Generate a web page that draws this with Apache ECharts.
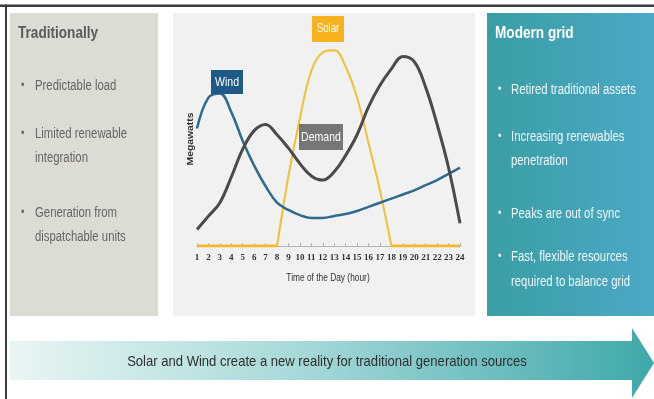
<!DOCTYPE html>
<html>
<head>
<meta charset="utf-8">
<title>Solar and Wind create a new reality</title>
<script src="https://cdn.jsdelivr.net/npm/echarts@6/dist/echarts.min.js"></script>
<style>
  html, body { margin: 0; padding: 0; background: #ffffff; }
  #chart { width: 654px; height: 399px; }
</style>
</head>
<body>
<div id="chart"></div>
<script>
// Hour of day categories
const hours = ['1','2','3','4','5','6','7','8','9','10','11','12','13','14','15','16','17','18','19','20','21','22','23','24'];

// Relative output / load per hour (arbitrary megawatt scale, 0-100)
const demand = [8, 14.5, 21, 33.5, 47, 56, 59, 54, 47.5, 40, 34, 32, 36, 44, 54, 67.5, 78, 86, 92, 89.5, 77, 59, 38, 11];
const wind   = [57, 72, 74, 65, 51, 39, 29, 21, 17.5, 15, 13.6, 13.6, 14.6, 15.5, 17, 19, 21, 23, 25, 27, 29.5, 32, 35, 38];
const solar  = [0, 0, 0, 0, 0, 0, 0, 0, 34, 62, 85, 94, 95, 87, 72, 50, 27, 0, 0, 0, 0, 0, 0, 0];

// Panel text
const leftTitle = 'Traditionally';
const leftLines = [
  { text: 'Predictable load', bullet: true },
  { text: 'Limited renewable', bullet: true },
  { text: 'integration', bullet: false },
  { text: 'Generation from', bullet: true },
  { text: 'dispatchable units', bullet: false }
];
const rightTitle = 'Modern grid';
const rightLines = [
  { text: 'Retired traditional assets', bullet: true },
  { text: 'Increasing renewables', bullet: true },
  { text: 'penetration', bullet: false },
  { text: 'Peaks are out of sync', bullet: true },
  { text: 'Fast, flexible resources', bullet: true },
  { text: 'required to balance grid', bullet: false }
];
const arrowText = 'Solar and Wind create a new reality for traditional generation sources';
const xAxisTitle = 'Time of the Day (hour)';
const yAxisTitle = 'Megawatts';

const SANS = '"Liberation Sans", Arial, sans-serif';
// horizontal squeeze giving the condensed look of the lettering
const NARROW_SCALE = 0.81;

// Solar is drawn as a flat night-time baseline plus a smooth daytime curve
const solarBase = solar.map(v => (v === 0 ? 0 : null));
const solarDay = solar.map((v, i) =>
  (v > 0 || solar[i - 1] > 0 || solar[i + 1] > 0) ? v : null);

function textEl(x, y, text, opts, scale) {
  return {
    type: 'text',
    x: x, y: y,
    scaleX: scale == null ? NARROW_SCALE : scale,
    z: 10,
    style: Object.assign({
      text: text,
      fill: '#5e5e5e',
      font: '14px ' + SANS,
      textVerticalAlign: 'middle',
      textAlign: 'left'
    }, opts || {})
  };
}

function listEls(lines, ys, bx, tx, color) {
  const out = [];
  lines.forEach((l, i) => {
    if (l.bullet) out.push(textEl(bx, ys[i], '\u2022', { fill: color, font: '12px ' + SANS }));
    out.push(textEl(tx, ys[i], l.text, { fill: color }));
  });
  return out;
}

function labelBox(x, y, w, h, fill, text, size) {
  return {
    type: 'group', z: 20,
    children: [
      { type: 'rect', shape: { x: x, y: y, width: w, height: h }, style: { fill: fill }, z: 20 },
      { type: 'text', z: 21, x: x + w / 2, y: y + h / 2, scaleX: NARROW_SCALE,
        style: { text: text, fill: '#ffffff', font: size + 'px ' + SANS,
                 textAlign: 'center', textVerticalAlign: 'middle' } }
    ]
  };
}

const graphics = [
  // frame lines
  { type: 'rect', shape: { x: 0, y: 4.5, width: 654, height: 2.5 }, style: { fill: '#3c3c3c' }, z: 1 },
  { type: 'rect', shape: { x: 5, y: 4.5, width: 2, height: 395 }, style: { fill: '#3c3c3c' }, z: 1 },
  // panels
  { type: 'rect', shape: { x: 10, y: 13, width: 148, height: 303 }, style: { fill: '#dcdcd5' }, z: 0 },
  { type: 'rect', shape: { x: 173, y: 13, width: 302, height: 303 }, style: { fill: '#f1f1f1' }, z: 0 },
  { type: 'rect', shape: { x: 487, y: 13, width: 167, height: 303 },
    style: { fill: { type: 'linear', x: 0, y: 0, x2: 1, y2: 0,
      colorStops: [{ offset: 0, color: '#3a9ea4' }, { offset: 1, color: '#4ca8c6' }] } }, z: 0 },
  // bottom arrow
  { type: 'polygon',
    shape: { points: [[10, 341], [632, 341], [632, 328], [654, 363], [632, 398], [632, 380], [10, 380]] },
    style: { fill: { type: 'linear', x: 0, y: 0, x2: 1, y2: 0,
      colorStops: [{ offset: 0, color: '#e9f5f4' }, { offset: 0.45, color: '#a6d9d8' }, { offset: 1, color: '#3fa8aa' }] } }, z: 0 },
  textEl(327, 362, arrowText, { fill: '#2e2e2e', textAlign: 'center', font: '15px ' + SANS }, 0.87),
  // left panel
  textEl(18, 34, leftTitle, { fill: '#5a5a5a', font: 'bold 16px ' + SANS }, 0.85),
  ...listEls(leftLines, [86, 134, 158, 213, 237], 21, 35, '#646464'),
  // right panel
  textEl(495, 34, rightTitle, { fill: '#ffffff', font: 'bold 16px ' + SANS }, 0.85),
  ...listEls(rightLines, [90, 137, 161, 214, 257, 282], 498, 511, '#eef8f8'),
  // axis titles
  textEl(328, 278, xAxisTitle, { fill: '#333333', textAlign: 'center', font: '11px ' + SANS }, 0.76),
  { type: 'text', x: 191, y: 139, rotation: Math.PI / 2, scaleX: 1.15, z: 10,
    style: { text: yAxisTitle, fill: '#333333', font: 'bold 9px ' + SANS,
             textAlign: 'center', textVerticalAlign: 'middle' } },
  // series name tags
  labelBox(211, 70, 32, 24, '#1d5b86', 'Wind', 13),
  labelBox(312, 16, 32, 26, '#f6b31f', 'Solar', 12),
  labelBox(299, 124, 44, 26, '#767676', 'Demand', 13)
];

const chart = echarts.init(document.getElementById('chart'), null, { renderer: 'canvas' });
chart.setOption({
  animation: false,
  backgroundColor: '#ffffff',
  grid: { left: 197, right: 194, top: 40, bottom: 153, containLabel: false },
  xAxis: {
    type: 'category',
    data: hours,
    boundaryGap: false,
    axisLine: { lineStyle: { color: '#b3b3b3', width: 1 } },
    axisTick: { show: true, inside: true, length: 3, alignWithLabel: true, lineStyle: { color: '#b3b3b3' } },
    axisLabel: { interval: 0, margin: 7, fontFamily: '"Liberation Serif", serif', fontWeight: 'bold', fontSize: 9, color: '#333333' },
    splitLine: { show: false }
  },
  yAxis: {
    type: 'value', min: 0, max: 100, show: false, splitLine: { show: false }
  },
  graphic: graphics,
  series: [
    { name: 'Solar', type: 'line', data: solarBase, symbol: 'none', smooth: false, connectNulls: false,
      lineStyle: { color: '#f5b82c', width: 3 }, z: 3 },
    { name: 'Solar', type: 'line', data: solarDay, symbol: 'none', smooth: 0.4, connectNulls: false,
      lineStyle: { color: '#f2c033', width: 2 }, z: 3 },
    { name: 'Wind', type: 'line', data: wind, symbol: 'none', smooth: 0.4,
      lineStyle: { color: '#2d6b8e', width: 2.5 }, z: 4 },
    { name: 'Demand', type: 'line', data: demand, symbol: 'none', smooth: 0.4,
      lineStyle: { color: '#4a4a4a', width: 3 }, z: 5 }
  ]
});
</script>
</body>
</html>
